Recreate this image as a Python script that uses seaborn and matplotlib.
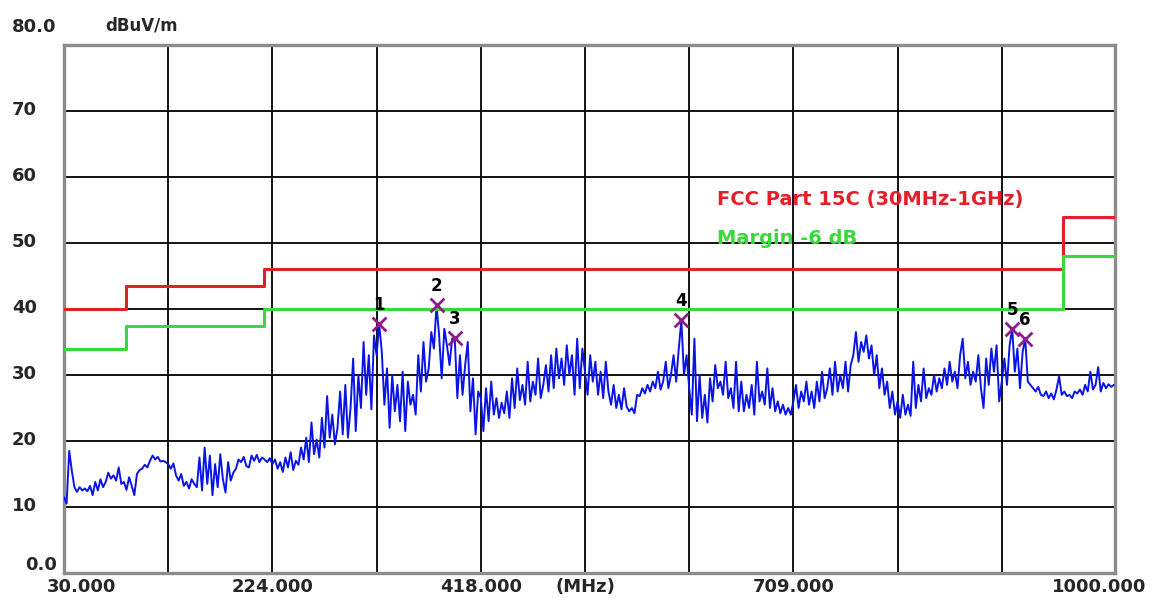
import numpy as np
import matplotlib
matplotlib.use("Agg")
import matplotlib.pyplot as plt
import seaborn as sns

# Measured field strength (dBuV/m), one list per 97 MHz grid column,
# sweep step 2.425 MHz starting at 30 MHz.
band_030_127 = [11.5, 10.5, 18.5, 15.5, 13.0, 12.3, 13.0, 12.5, 12.8, 12.4,
                13.2, 11.8, 13.8, 12.5, 14.2, 13.0, 13.8, 15.2, 14.3, 14.8,
                14.0, 16.0, 13.5, 13.8, 12.6, 14.5, 13.2, 11.8, 15.0, 15.6,
                15.8, 16.4, 16.0, 17.0, 17.8, 17.2, 17.6, 16.9, 17.0, 16.8]
band_127_224 = [16.5, 15.8, 16.6, 14.8, 14.0, 15.0, 13.2, 13.8, 12.8, 14.2,
                13.5, 13.0, 17.5, 12.5, 19.0, 13.5, 17.8, 11.8, 16.5, 13.0,
                18.0, 14.2, 12.2, 16.8, 14.0, 15.2, 15.8, 17.2, 16.8, 17.6,
                16.2, 16.0, 17.8, 17.0, 17.9, 16.8, 17.5, 17.2, 16.8, 17.4]
band_224_321 = [16.5, 17.2, 15.8, 16.8, 15.3, 17.5, 16.0, 18.3, 15.6, 17.0,
                16.4, 19.0, 17.2, 20.5, 16.8, 22.8, 18.0, 20.2, 17.5, 23.5,
                19.0, 26.8, 20.5, 24.0, 19.5, 22.0, 27.5, 21.0, 28.5, 20.5,
                25.0, 32.5, 21.5, 30.0, 25.0, 35.0, 27.0, 33.0, 24.8, 36.0]
band_321_418 = [33.0, 37.7, 33.5, 25.5, 31.0, 22.0, 30.0, 24.5, 28.5, 23.0,
                30.5, 21.5, 29.0, 25.5, 27.0, 24.0, 33.0, 27.5, 35.0, 29.0,
                31.0, 36.5, 34.0, 40.6, 36.0, 29.5, 37.0, 34.5, 31.5, 35.5,
                35.6, 26.5, 33.0, 27.0, 31.5, 35.0, 24.5, 29.5, 21.0, 27.5]
band_418_515 = [26.5, 21.5, 28.0, 23.0, 29.0, 24.0, 26.5, 23.5, 25.8, 24.2,
                27.5, 23.5, 29.5, 25.0, 31.0, 26.2, 28.5, 25.5, 32.0, 26.0,
                29.0, 27.0, 32.5, 26.5, 28.5, 31.5, 27.5, 33.0, 28.0, 34.0,
                29.5, 32.5, 28.5, 34.5, 30.0, 33.0, 27.0, 35.5, 28.0, 34.0]
band_515_612 = [30.5, 27.0, 33.0, 29.0, 32.0, 27.0, 30.5, 26.5, 32.0, 27.5,
                25.5, 28.5, 25.0, 27.0, 24.8, 28.0, 25.2, 24.5, 25.0, 24.2,
                27.0, 26.8, 28.0, 27.2, 28.5, 27.5, 29.0, 28.0, 30.5, 27.8,
                29.0, 32.0, 28.0, 30.0, 33.0, 29.0, 34.0, 38.3, 30.0, 33.0]
band_612_709 = [28.0, 24.0, 35.5, 23.0, 30.0, 23.5, 27.0, 22.8, 29.5, 26.0,
                31.5, 28.0, 29.0, 27.0, 32.0, 26.5, 28.0, 25.0, 32.0, 24.5,
                29.0, 24.5, 27.0, 25.0, 28.5, 24.0, 32.0, 26.0, 27.5, 25.5,
                31.0, 25.0, 28.0, 24.5, 26.0, 24.2, 25.5, 24.0, 25.0, 24.0]
band_709_806 = [26.0, 28.5, 25.0, 27.5, 26.0, 29.0, 25.5, 27.5, 25.0, 29.0,
                26.0, 30.5, 26.5, 28.0, 31.0, 27.0, 32.0, 27.5, 30.0, 28.0,
                32.0, 27.5, 31.5, 33.0, 36.5, 32.0, 35.0, 33.5, 36.0, 32.5,
                34.5, 30.0, 33.0, 28.0, 31.0, 27.0, 29.0, 25.0, 27.5, 24.0]
band_806_903 = [26.0, 23.5, 27.0, 24.0, 25.5, 23.8, 32.0, 25.0, 28.5, 26.0,
                31.0, 26.5, 28.0, 27.0, 30.0, 27.5, 29.5, 28.0, 31.0, 28.5,
                32.0, 29.0, 30.5, 28.0, 33.0, 35.5, 29.5, 32.0, 28.5, 30.5,
                29.0, 33.0, 28.0, 25.0, 32.5, 28.5, 34.0, 30.5, 34.5, 26.0]
band_903_1000 = [29.0, 32.5, 28.5, 34.5, 37.0, 30.5, 34.0, 28.0, 33.5, 35.5,
                 29.0, 28.5, 28.0, 27.5, 28.2, 27.0, 26.8, 27.5, 26.5, 27.2,
                 26.3, 27.8, 29.8, 27.0, 27.5, 26.8, 27.0, 26.5, 27.5, 27.2,
                 27.8, 27.0, 28.5, 27.5, 30.5, 27.8, 28.5, 31.2, 27.5, 28.8]
band_1000_end = [28.0, 28.6, 28.2, 28.5]

SWEEP_START = 30.0
SWEEP_STEP = 2.425
X_END = 1008.4

# FCC Part 15C radiated limit and the -6 dB margin line
limit_freq = [30.0, 88.0, 216.0, 960.0, X_END]
limit_level = [40.0, 43.5, 46.0, 54.0, 54.0]
margin_db = 6.0

# Marked peaks
peak_label = ["1", "2", "3", "4", "5", "6"]
peak_freq = [323.4, 376.8, 393.8, 604.7, 912.7, 924.8]
peak_level = [37.7, 40.6, 35.6, 38.3, 37.0, 35.5]

# Axis annotation
x_label_values = [30, 224, 418, 515, 709, 1000]
x_label_texts = ["30.000", "224.000", "418.000", "(MHz)", "709.000", "1000.000"]
y_label_values = [0, 10, 20, 30, 40, 50, 60, 70, 80]
y_label_texts = ["0.0", "10", "20", "30", "40", "50", "60", "70", "80.0"]

level = np.concatenate([band_030_127, band_127_224, band_224_321, band_321_418,
                        band_418_515, band_515_612, band_612_709, band_709_806,
                        band_806_903, band_903_1000, band_1000_end])
freq = SWEEP_START + SWEEP_STEP * np.arange(len(level))
margin_level = [v - margin_db for v in limit_level]

sns.set_style("white")
plt.rcParams["font.family"] = ["DejaVu Sans"]
plt.rcParams["font.weight"] = "bold"

W, H = 1154, 601
fig = plt.figure(figsize=(W / 100, H / 100), dpi=100)
L, R, T, B = 64, 1115, 45, 573
ax = fig.add_axes([L / W, (H - B) / H, (R - L) / W, (B - T) / H])

RED = "#E3202A"
GREEN = "#3AD83A"
BLUE = "#0A14E6"
PURPLE = "#8E1C8E"

# grid every 97 MHz and 10 dB
ax.set_xlim(30, X_END)
ax.set_ylim(0, 80)
ax.set_xticks([30 + 97 * k for k in range(1, 10)])
ax.set_yticks(range(10, 80, 10))
ax.tick_params(length=0, labelbottom=False, labelleft=False)
ax.grid(True, color="black", linewidth=1.3)
ax.set_axisbelow(True)
for sp in ax.spines.values():
    sp.set_color("#8c8c8c")
    sp.set_linewidth(2.4)

sns.lineplot(x=freq, y=level, ax=ax, color=BLUE, linewidth=1.4,
             estimator=None, sort=False, zorder=3)
sns.lineplot(x=limit_freq, y=limit_level, ax=ax, color=RED, linewidth=2.2,
             drawstyle="steps-post", estimator=None, sort=False, zorder=4)
sns.lineplot(x=limit_freq, y=margin_level, ax=ax, color=GREEN, linewidth=2.2,
             drawstyle="steps-post", estimator=None, sort=False, zorder=4)
sns.scatterplot(x=peak_freq, y=peak_level, ax=ax, marker="x", s=100,
                color=PURPLE, linewidth=2.0, zorder=5)
for lab, f, v in zip(peak_label, peak_freq, peak_level):
    ax.annotate(lab, xy=(f, v), xytext=(0, 13.5), textcoords="offset points",
                ha="center", va="center", fontsize=12, fontweight="bold",
                color="black", zorder=6)
ax.set_xlabel("")
ax.set_ylabel("")

FS = 13
# x labels under the frame
x_shift_px = {"30.000": 17, "1000.000": -7}
for v, t in zip(x_label_values, x_label_texts):
    ax.annotate(t, xy=(v, 0), xycoords=("data", "axes fraction"),
                xytext=(x_shift_px.get(t, 0) * 0.72, -3.5),
                textcoords="offset points", ha="center", va="top",
                fontsize=FS, fontweight="bold", annotation_clip=False)

# y labels at the left, left-aligned
for v, t in zip(y_label_values, y_label_texts):
    dx = -39 if t == "0.0" else -52
    dy = {"80.0": 18, "0.0": 8}.get(t, 1)
    ax.annotate(t, xy=(0, v), xycoords=("axes fraction", "data"),
                xytext=(dx * 0.72, dy * 0.72), textcoords="offset points",
                ha="left", va="center", fontsize=FS, fontweight="bold",
                annotation_clip=False)

ax.annotate("dBuV/m", xy=(0, 1), xycoords="axes fraction",
            xytext=(41 * 0.72, 19 * 0.72), textcoords="offset points",
            ha="left", va="center", fontsize=12, fontweight="bold",
            annotation_clip=False)

ax.text((717 - L) / (R - L), (B - 200) / (B - T), "FCC Part 15C (30MHz-1GHz)",
        transform=ax.transAxes, ha="left", va="center", fontsize=14,
        fontweight="bold", color=RED, zorder=6)
ax.text((717 - L) / (R - L), (B - 239) / (B - T), "Margin -6 dB",
        transform=ax.transAxes, ha="left", va="center", fontsize=14,
        fontweight="bold", color=GREEN, zorder=6)

fig.savefig("out.png", dpi=100, facecolor="white")
